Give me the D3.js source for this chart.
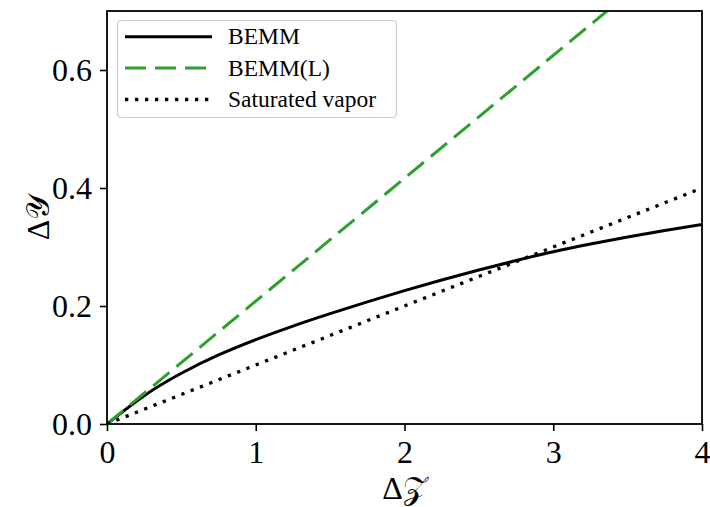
<!DOCTYPE html>
<html><head><meta charset="utf-8">
<script src="https://cdn.jsdelivr.net/npm/d3@7"></script>
<style>body{margin:0;background:#fff}svg{display:block}</style>
</head><body>
<svg id="c" width="710" height="507"></svg>
<script>
// Data
const bemmX = [0, 0.25, 0.5, 0.75, 1.0, 1.25, 1.5, 1.75, 2.0, 2.25, 2.5, 2.75, 3.0, 3.25, 3.5, 3.75, 4.0];
const bemmY = [0, 0.048, 0.086, 0.117, 0.143, 0.166, 0.187, 0.207, 0.226, 0.244, 0.261, 0.277, 0.292, 0.305, 0.317, 0.328, 0.338];
const bemmLX = [0, 4];
const bemmLY = [0, 0.833];
const satX = [0, 4];
const satY = [0, 0.4];
const xTicks = [0, 1, 2, 3, 4];
const yTicks = [0.0, 0.2, 0.4, 0.6];
const seriesNames = ["BEMM", "BEMM(L)", "Saturated vapor"];

const svg = d3.select("#c");
const L = 107, R = 702, T = 11, B = 424;
const x = d3.scaleLinear().domain([0, 4]).range([L, R]);
const y = d3.scaleLinear().domain([0, 0.7]).range([B, T]);
const font = "'Liberation Serif', 'DejaVu Serif', serif";

svg.append("defs").append("clipPath").attr("id", "clip")
  .append("rect").attr("x", L).attr("y", T).attr("width", R - L).attr("height", B - T);

const line = d3.line().x(d => x(d[0])).y(d => y(d[1]));
const styles = [
  {color: "#000", width: 3, dash: null, curve: d3.curveNatural},
  {color: "#2ca02c", width: 3, dash: "21,9", curve: d3.curveLinear},
  {color: "#000", width: 3.3, dash: "3.3,6.7", curve: d3.curveLinear}
];
const data = [
  d3.zip(bemmX, bemmY),
  d3.zip(bemmLX, bemmLY),
  d3.zip(satX, satY)
];
const g = svg.append("g").attr("clip-path", "url(#clip)");
data.forEach((d, i) => {
  const s = styles[i];
  g.append("path").datum(d)
    .attr("d", line.curve(s.curve))
    .attr("fill", "none").attr("stroke", s.color).attr("stroke-width", s.width)
    .attr("stroke-dasharray", s.dash).attr("stroke-linecap", "butt");
});

// axes
const xa = svg.append("g").attr("transform", `translate(0,${B})`)
  .call(d3.axisBottom(x).tickValues(xTicks).tickFormat(d3.format("d")).tickSize(7).tickPadding(10));
const ya = svg.append("g").attr("transform", `translate(${L},0)`)
  .call(d3.axisLeft(y).tickValues(yTicks).tickFormat(d3.format(".1f")).tickSize(7).tickPadding(8));
[xa, ya].forEach(a => {
  a.select(".domain").remove();
  a.selectAll(".tick line").attr("stroke", "#000").attr("stroke-width", 1.6);
  a.selectAll(".tick text").attr("font-family", font).attr("font-size", 32).attr("fill", "#000");
});
xa.selectAll(".tick text").attr("dy", "0.68em");
ya.selectAll(".tick text").attr("dy", "0.33em");

// frame
svg.append("rect").attr("x", L).attr("y", T).attr("width", R - L).attr("height", B - T)
  .attr("fill", "none").attr("stroke", "#000").attr("stroke-width", 1.8);

// axis labels
svg.append("text").attr("x", (L + R) / 2).attr("y", 499).attr("text-anchor", "middle")
  .attr("font-family", font).attr("font-size", 32).text("Δ𝒵");
svg.append("text").attr("transform", `translate(49,${(T + B) / 2}) rotate(-90)`).attr("text-anchor", "middle")
  .attr("font-family", font).attr("font-size", 32).text("Δ𝒴");

// legend
const lg = svg.append("g");
lg.append("rect").attr("x", 117.5).attr("y", 20.5).attr("width", 279).attr("height", 97).attr("rx", 4)
  .attr("fill", "#fff").attr("fill-opacity", 0.8).attr("stroke", "#ccc").attr("stroke-width", 1.2);
const rowY = [36.7, 68, 99.5];
seriesNames.forEach((n, i) => {
  const s = styles[i];
  lg.append("line").attr("x1", 125).attr("x2", 212).attr("y1", rowY[i]).attr("y2", rowY[i])
    .attr("stroke", s.color).attr("stroke-width", s.width).attr("stroke-dasharray", s.dash);
  lg.append("text").attr("x", 228).attr("y", rowY[i] + 7.5).attr("font-family", font).attr("font-size", 23.5)
    .text(n);
});
</script>
</body></html>
